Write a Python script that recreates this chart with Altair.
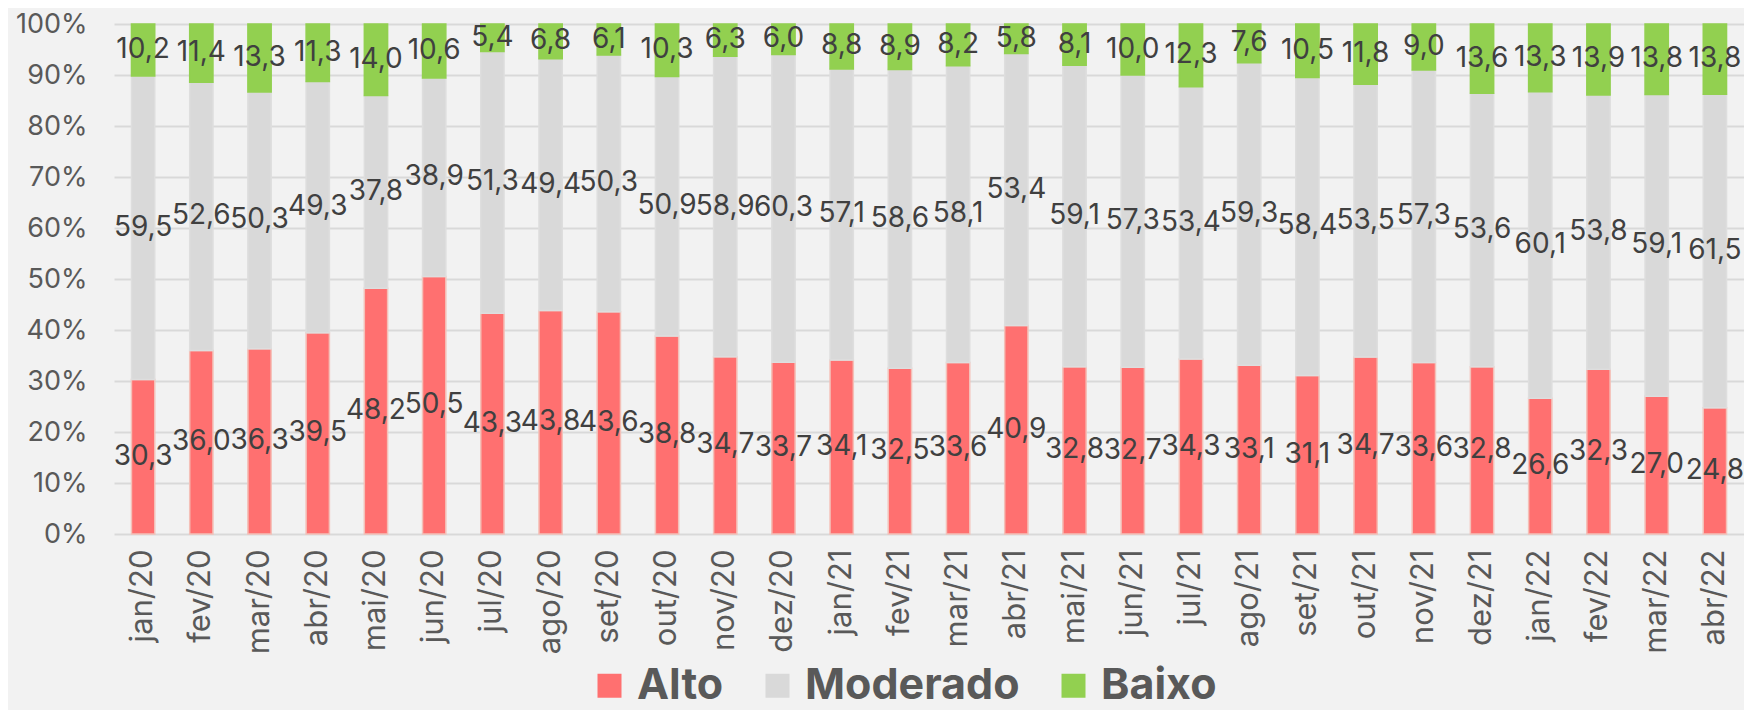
import altair as alt
import pandas as pd

months = ["jan/20", "fev/20", "mar/20", "abr/20", "mai/20", "jun/20", "jul/20", "ago/20",
          "set/20", "out/20", "nov/20", "dez/20", "jan/21", "fev/21", "mar/21", "abr/21",
          "mai/21", "jun/21", "jul/21", "ago/21", "set/21", "out/21", "nov/21", "dez/21",
          "jan/22", "fev/22", "mar/22", "abr/22"]
alto = [30.3, 36.0, 36.3, 39.5, 48.2, 50.5, 43.3, 43.8, 43.6, 38.8, 34.7, 33.7, 34.1, 32.5,
        33.6, 40.9, 32.8, 32.7, 34.3, 33.1, 31.1, 34.7, 33.6, 32.8, 26.6, 32.3, 27.0, 24.8]
moderado = [59.5, 52.6, 50.3, 49.3, 37.8, 38.9, 51.3, 49.4, 50.3, 50.9, 58.9, 60.3, 57.1, 58.6,
            58.1, 53.4, 59.1, 57.3, 53.4, 59.3, 58.4, 53.5, 57.3, 53.6, 60.1, 53.8, 59.1, 61.5]
baixo = [10.2, 11.4, 13.3, 11.3, 14.0, 10.6, 5.4, 6.8, 6.1, 10.3, 6.3, 6.0, 8.8, 8.9,
         8.2, 5.8, 8.1, 10.0, 12.3, 7.6, 10.5, 11.8, 9.0, 13.6, 13.3, 13.9, 13.8, 13.8]
series = ["Alto", "Moderado", "Baixo"]
colors = ["#FF7070", "#D9D9D9", "#92D050"]

rows = []
for i, m in enumerate(months):
    for k, (name, vals) in enumerate(zip(series, [alto, moderado, baixo])):
        rows.append({"month": m, "series": name, "order": k, "value": vals[i]})
df = pd.DataFrame(rows)

FONT = "Inter"

base = alt.Chart(df).transform_stack(
    stack="value", groupby=["month"], as_=["v0", "v1"], offset="normalize",
    sort=[alt.SortField("order", order="ascending")]
).transform_calculate(
    mid="(datum.v0 + datum.v1) / 2",
    label="replace(format(datum.value, '.1f'), '.', ',')"
)

x = alt.X("month:N", sort=months,
          scale=alt.Scale(paddingInner=0.6, paddingOuter=0.3),
          axis=alt.Axis(title=None, labelAngle=-90, labelFontSize=31, labelColor="#595959",
                        labelFont=FONT, labelPadding=15, ticks=False, domain=False))

bars = base.mark_bar(strokeWidth=1.5).encode(
    x=x,
    y=alt.Y("v0:Q", scale=alt.Scale(domain=[0, 1]),
            axis=alt.Axis(title=None, format=".0%", values=[i / 10 for i in range(11)],
                          labelFontSize=27, labelColor="#595959", labelFont=FONT,
                          labelPadding=27, ticks=False, domain=False,
                          gridColor="#D9D9D9", gridWidth=2)),
    y2="v1:Q",
    color=alt.Color("series:N", sort=series,
                    scale=alt.Scale(domain=series, range=colors),
                    legend=alt.Legend(title=None, orient="none", direction="horizontal",
                                      legendX=474, legendY=640,
                                      labelFontSize=43, labelFontWeight="bold",
                                      labelColor="#595959", labelFont=FONT, labelLimit=0,
                                      symbolType="square", symbolSize=576,
                                      symbolStrokeWidth=0, labelOffset=6,
                                      columnPadding=32)),
    stroke=alt.Stroke("series:N", scale=alt.Scale(domain=series,
                                                 range=["#F4C0B8", "#DEDEDE", "#92D050"]),
                      legend=None),
    order=alt.Order("order:Q"),
)

labels = base.mark_text(fontSize=28, font=FONT, color="#404040",
                        align="center", baseline="middle").encode(
    x=x,
    y=alt.Y("mid:Q", scale=alt.Scale(domain=[0, 1])),
    text="label:N",
)

chart = alt.layer(bars, labels).properties(
    width=1630, height=510,
    autosize=alt.AutoSizeParams(type="none"),
    padding={"left": 106, "top": 16, "right": 0, "bottom": 176},
    background="#F2F2F2",
).configure_view(stroke=None)

chart.save("out.html", embed_options={"renderer": "svg", "actions": False})
